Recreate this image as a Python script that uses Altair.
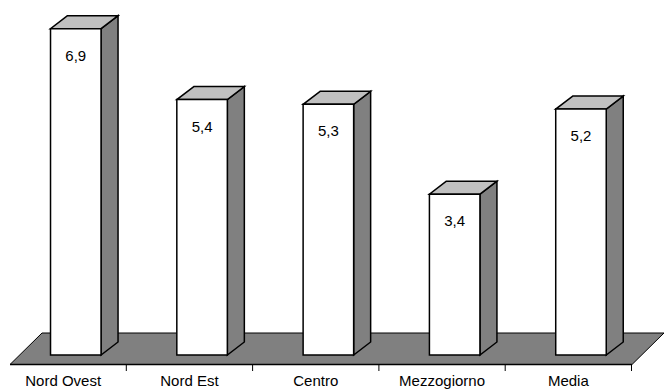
import altair as alt
import pandas as pd

# ---- data ----
categories = ["Nord Ovest", "Nord Est", "Centro", "Mezzogiorno", "Media"]
values = [6.9, 5.4, 5.3, 3.4, 5.2]

# ---- layout / style constants (pixels) ----
W, H = 664, 391
BAND_PX = 126.3          # width of one category band
UNIT_PX = 47.3           # pixels per value unit
BASE_PX = 355            # y pixel of value 0 (front bottom of bars)
FRONT_L, FRONT_R = 0.40, 0.80   # front face inside band (fractions)
DX = 17 / BAND_PX        # 3D depth, x
DY = 13 / UNIT_PX        # 3D depth, y
FONT = "Liberation Sans, Arial, Helvetica, sans-serif"

def ypx(p):
    return (BASE_PX - p) / UNIT_PX

def xpx(p):
    return p / BAND_PX

xs = alt.Scale(domain=[0, W / BAND_PX], nice=False, zero=False)
ys = alt.Scale(domain=[ypx(H), ypx(0)], nice=False, zero=False)

# floor parallelogram
FL_Y0, FL_Y1 = ypx(364.5), ypx(333)
floor_df = pd.DataFrame({
    "y": [FL_Y0, FL_Y1],
    "x": [xpx(10), xpx(42)],
    "x2": [xpx(632), xpx(664)],
})

front_rows, side_rows, top_rows, lab_rows, cat_rows = [], [], [], [], []
for i, (c, v) in enumerate(zip(categories, values)):
    front_rows.append({"cat": c, "x": i + FRONT_L, "x2": i + FRONT_R, "y": 0.0, "y2": v})
    side_rows.append({"cat": c, "x": i + FRONT_R, "y": v, "y2": 0.0})
    side_rows.append({"cat": c, "x": i + FRONT_R + DX, "y": v + DY, "y2": DY})
    top_rows.append({"cat": c, "y": v, "x": i + FRONT_L, "x2": i + FRONT_R})
    top_rows.append({"cat": c, "y": v + DY, "x": i + FRONT_L + DX, "x2": i + FRONT_R + DX})
    lab_rows.append({"cat": c, "x": i + (FRONT_L + FRONT_R) / 2,
                     "y": v - 27 / UNIT_PX, "t": f"{v:.1f}".replace(".", ",")})
    cat_rows.append({"cat": c, "x": i + 0.5, "y": ypx(381)})

front_df = pd.DataFrame(front_rows)
side_df = pd.DataFrame(side_rows)
top_df = pd.DataFrame(top_rows)
lab_df = pd.DataFrame(lab_rows)
cat_df = pd.DataFrame(cat_rows)
tick_df = pd.DataFrame({"x": [1, 2, 3, 4, 5], "y": FL_Y0, "y2": ypx(371)})
axis_df = pd.DataFrame({"x": [xpx(10)], "x2": [xpx(632)], "y": [FL_Y0]})

X = lambda f="x": alt.X(f"{f}:Q", scale=xs, axis=None)
Y = lambda f="y": alt.Y(f"{f}:Q", scale=ys, axis=None, stack=None)

floor = alt.Chart(floor_df).mark_area(
    orient="horizontal", fill="#808080", stroke="black", strokeWidth=1
).encode(y=Y(), x=X(), x2="x2:Q")

axis_line = alt.Chart(axis_df).mark_rule(color="black", strokeWidth=1.5).encode(
    x=X(), x2="x2:Q", y=Y())

ticks = alt.Chart(tick_df).mark_rule(color="black", strokeWidth=1).encode(
    x=X(), y=Y(), y2="y2:Q")

side = alt.Chart(side_df).mark_area(
    orient="vertical", fill="#808080", stroke="black", strokeWidth=1.5,
    strokeJoin="miter"
).encode(x=X(), y=Y(), y2="y2:Q", detail="cat:N")

top = alt.Chart(top_df).mark_area(
    orient="horizontal", fill="#c0c0c0", stroke="black", strokeWidth=1.5,
    strokeJoin="miter"
).encode(y=Y(), x=X(), x2="x2:Q", detail="cat:N")

front = alt.Chart(front_df).mark_rect(
    fill="white", stroke="black", strokeWidth=1.5
).encode(x=X(), x2="x2:Q", y=Y(), y2="y2:Q")

labels = alt.Chart(lab_df).mark_text(
    font=FONT, fontSize=15, color="black", baseline="middle", align="center"
).encode(x=X(), y=Y(), text="t:N")

cat_labels = alt.Chart(cat_df).mark_text(
    font=FONT, fontSize=15, color="black", baseline="middle", align="center"
).encode(x=X(), y=Y(), text="cat:N")

chart = alt.layer(floor, axis_line, ticks, side, top, front, labels, cat_labels).properties(
    width=W, height=H,
    autosize=alt.AutoSizeParams(type="none"),
    padding=0,
    background="white",
).configure_view(stroke=None)

chart.save("out.html", embed_options={"renderer": "svg", "actions": False})
